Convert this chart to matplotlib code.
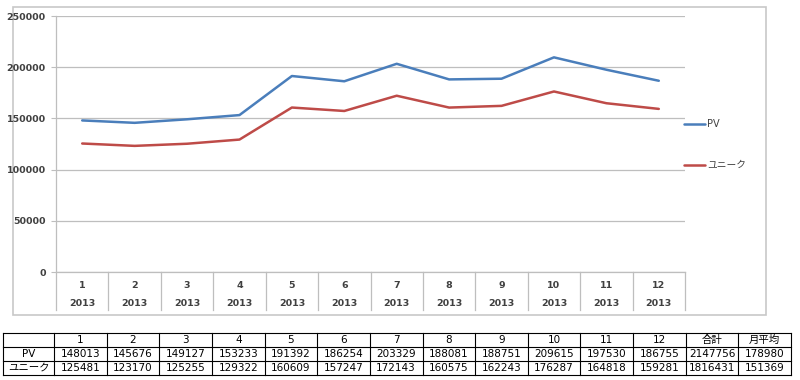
import matplotlib
matplotlib.use("Agg")
import matplotlib.pyplot as plt
import matplotlib.transforms as mtransforms

plt.rcParams['font.family'] = ['DejaVu Sans', 'Noto Sans CJK JP']

months = ["1", "2", "3", "4", "5", "6", "7", "8", "9", "10", "11", "12"]
year = "2013"
pv = [148013, 145676, 149127, 153233, 191392, 186254, 203329, 188081, 188751, 209615, 197530, 186755]
unique = [125481, 123170, 125255, 129322, 160609, 157247, 172143, 160575, 162243, 176287, 164818, 159281]
series_names = ["PV", "ユニーク"]
extra_cols = ["合計", "月平均"]
pv_extra = [2147756, 178980]
unique_extra = [1816431, 151369]
yticks = [0, 50000, 100000, 150000, 200000, 250000]

blue = "#4A7EBB"
red = "#BE4B48"
grid = "#BEBEBE"
label_color = "#404040"

W, H = 800, 380
fig = plt.figure(figsize=(8, 3.8), dpi=100)

# background layer in pixel coords: chart frame + data table
bg = fig.add_axes([0, 0, 1, 1], zorder=0)
bg.set_xlim(0, W)
bg.set_ylim(H, 0)
bg.axis("off")
bg.add_patch(plt.Rectangle((12.5, 6.5), 753, 308, fill=False, ec="#C8C8C8", lw=1.2))

# plot area
ax = fig.add_axes([56 / W, 1 - 272 / H, (685 - 56) / W, (272 - 16) / H], zorder=1)
ax.patch.set_alpha(0)
x = [i + 0.5 for i in range(len(months))]
ax.plot(x, pv, color=blue, lw=1.8, label=series_names[0], solid_capstyle="round")
ax.plot(x, unique, color=red, lw=1.8, label=series_names[1], solid_capstyle="round")
ax.set_xlim(0, len(months))
ax.set_ylim(0, 250000)
ax.set_yticks(yticks)
ax.set_yticklabels([str(v) for v in yticks], fontsize=6.8, fontweight="bold", color=label_color)
ax.tick_params(axis="y", length=3.5, width=0.8, color=grid, pad=4)
ax.set_xticks([])
ax.grid(axis="y", color=grid, lw=0.9)
ax.set_axisbelow(True)
for s in ["top", "right"]:
    ax.spines[s].set_visible(False)
for s in ["left", "bottom"]:
    ax.spines[s].set_color(grid)
    ax.spines[s].set_linewidth(0.9)

# two-level category axis
trans = mtransforms.blended_transform_factory(ax.transData, ax.transAxes)
sep_bottom = -(310 - 272) / 256
for i in range(len(months) + 1):
    ax.plot([i, i], [0, sep_bottom], color=grid, lw=0.9, transform=trans, clip_on=False)
for i, m in enumerate(months):
    ax.text(i + 0.5, -13 / 256, m, transform=trans, ha="center", va="center",
            fontsize=6.8, fontweight="bold", color=label_color)
    ax.text(i + 0.5, -31 / 256, year, transform=trans, ha="center", va="center",
            fontsize=6.8, fontweight="bold", color=label_color)

ax.legend(loc="upper left", bbox_to_anchor=(684 / W, 1 - 119 / H),
          bbox_transform=fig.transFigure, frameon=False,
          prop={"size": 7}, labelcolor=label_color,
          handlelength=2.2, handletextpad=0.2, labelspacing=3.2,
          borderaxespad=0, borderpad=0)

# data table under the chart
cols = months + extra_cols
col_w = (791 - 54) / len(cols)
edges = [3, 54] + [54 + col_w * (k + 1) for k in range(len(cols))]
rows_y = [333, 347, 361, 375]
for yv in rows_y:
    bg.plot([edges[0], edges[-1]], [yv, yv], color="black", lw=0.8)
for xv in edges:
    bg.plot([xv, xv], [rows_y[0], rows_y[-1]], color="black", lw=0.8)

row_vals = [pv + pv_extra, unique + unique_extra]
for k, c in enumerate(cols):
    cx = (edges[k + 1] + edges[k + 2]) / 2
    bg.text(cx, (rows_y[0] + rows_y[1]) / 2, c, ha="center", va="center", fontsize=7.5)
    for r, vals in enumerate(row_vals):
        bg.text(cx, (rows_y[r + 1] + rows_y[r + 2]) / 2, str(vals[k]),
                ha="center", va="center", fontsize=7.5)
for r, name in enumerate(series_names):
    bg.text((edges[0] + edges[1]) / 2, (rows_y[r + 1] + rows_y[r + 2]) / 2, name,
            ha="center", va="center", fontsize=7.5)

fig.savefig("out.png", dpi=100)
